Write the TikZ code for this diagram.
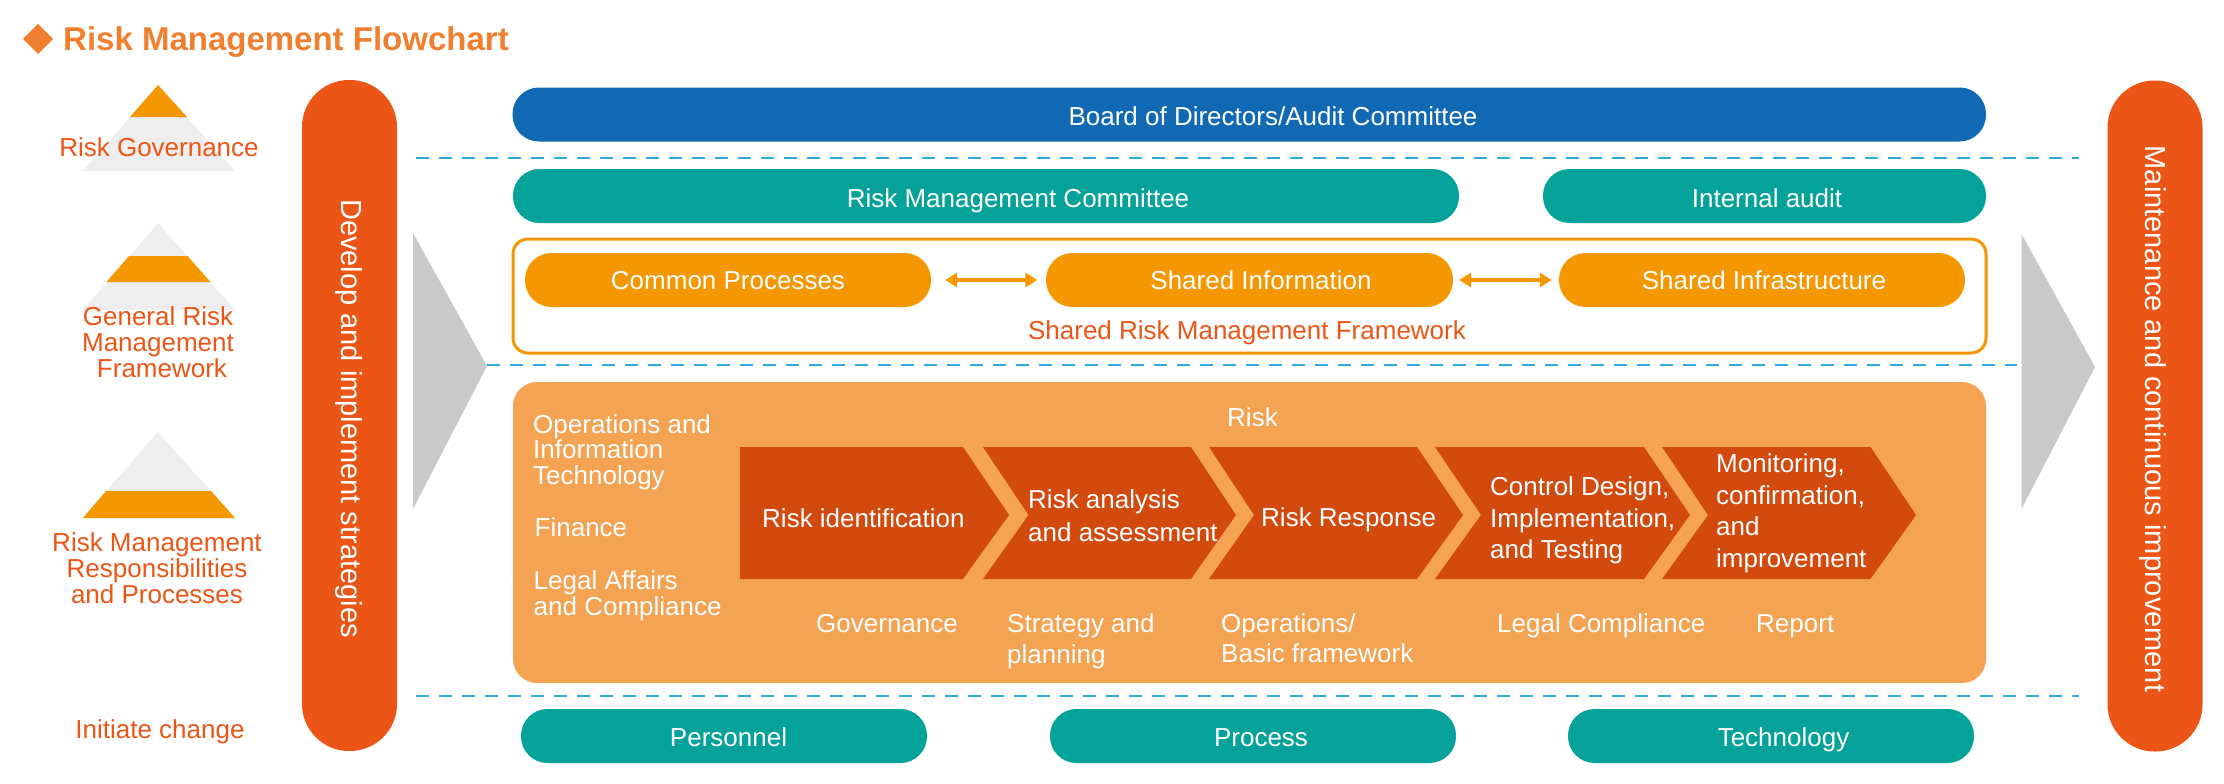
\documentclass[tikz,border=0pt]{standalone}
\usepackage{fontspec}
\setmainfont{Liberation Sans}
\usetikzlibrary{arrows.meta}
\definecolor{cTitle}{HTML}{F0802F}
\definecolor{cRed}{HTML}{EB5516}
\definecolor{cOrange}{HTML}{F59700}
\definecolor{cPale}{HTML}{EEEEEE}
\definecolor{cGray}{HTML}{C8C9C8}
\definecolor{cBlue}{HTML}{1069B2}
\definecolor{cTeal}{HTML}{04A299}
\definecolor{cLight}{HTML}{F4A352}
\definecolor{cChev}{HTML}{D24A0E}
\definecolor{cDash}{HTML}{2FA9E0}
\tikzset{
  x=1pt,y=-1pt,
  pill/.style={rectangle,rounded corners=26.5pt,minimum height=54pt,inner sep=0pt},
  bar/.style={rectangle,rounded corners=47pt,minimum width=95pt,minimum height=671pt,inner sep=0pt,fill=cRed},
  wt/.style={text=white,font=\fontsize{26}{26}\selectfont,inner sep=0pt,anchor=base},
  wl/.style={wt,anchor=base west,align=left},
  rt/.style={text=cRed,font=\fontsize{26}{26}\selectfont,inner sep=0pt,anchor=base,align=center},
  vt/.style={text=white,font=\fontsize{29}{29}\selectfont,inner sep=0pt,rotate=-90,anchor=center},
  divider/.style={cDash,line width=1.4pt,dash pattern=on 13pt off 10pt},
  dbl/.style={{Triangle[length=12pt,width=14pt]}-{Triangle[length=12pt,width=14pt]},cOrange,line width=3.5pt},
  chev/.style={fill=cChev},
}
\begin{document}
\begin{tikzpicture}
\useasboundingbox (0,0) rectangle (2224,784);
% title
\fill[cTitle] (38,24) -- (53,39) -- (38,54) -- (23,39) -- cycle;
\node[text=cTitle,inner sep=0pt,anchor=base west,font=\bfseries\fontsize{33}{33}\selectfont] (title) at (63,51) {Risk Management Flowchart};
% pyramids
\fill[cPale] (158,85) -- (235,171) -- (83,171) -- cycle;
\fill[cOrange] (158,85) -- (187,117) -- (130,117) -- cycle;
\fill[cPale] (158,223) -- (235,310) -- (83,310) -- cycle;
\fill[cOrange] (129,256) -- (187.5,256) -- (210.5,282) -- (106.5,282) -- cycle;
\fill[cPale] (158,432) -- (235,518) -- (83,518) -- cycle;
\fill[cOrange] (106,491) -- (211,491) -- (235,518) -- (83,518) -- cycle;
\node[rt] (lab1) at (159,156) {Risk Governance};
\node[rt] (lab2a) at (158,325) {General Risk};
\node[rt] (lab2b) at (158,351) {Management};
\node[rt] (lab2c) at (162,377) {Framework};
\node[rt] (lab3a) at (157,551) {Risk Management};
\node[rt] (lab3b) at (157,577) {Responsibilities};
\node[rt] (lab3c) at (157,603) {and Processes};
\node[rt] (lab4) at (160,738) {Initiate change};
% bars
\node[bar] (left) at (349.5,415.5) {};
\node[vt] (leftt) at (348.5,418.5) {Develop and implement strategies};
\node[bar] (right) at (2155,416) {};
\node[vt] (rightt) at (2153,419) {Maintenance and continuous improvement};
% gray triangles
\fill[cGray] (413,233) -- (487,366) -- (413,509) -- cycle;
\fill[cGray] (2021.5,234) -- (2095,367) -- (2021.5,509) -- cycle;
% dividers
\coordinate (d1a) at (416,158); \coordinate (d1b) at (2079,158);
\coordinate (d2a) at (487,365); \coordinate (d2b) at (2017,365);
\coordinate (d3a) at (416,696); \coordinate (d3b) at (2079,696);
\draw[divider] (d1a) -- (d1b);
\draw[divider] (d2a) -- (d2b);
\draw[divider] (d3a) -- (d3b);
% top pills
\node[pill,fill=cBlue,minimum width=1473.5pt] (board) at (1249.25,114.5) {};
\node[wt] (boardt) at (1273,125) {Board of Directors/Audit Committee};
\node[pill,fill=cTeal,minimum width=946pt] (rmc) at (986,196) {};
\node[wt] (rmct) at (1018,207) {Risk Management Committee};
\node[pill,fill=cTeal,minimum width=443pt] (audit) at (1764.5,196) {};
\node[wt] (auditt) at (1767,207) {Internal audit};
% framework
\draw[cOrange,line width=3pt,rounded corners=15pt] (513,239) rectangle (1986,353);
\node[pill,fill=cOrange,minimum width=406pt] (cp) at (728,280) {};
\node[wt] (cpt) at (728,289) {Common Processes};
\node[pill,fill=cOrange,minimum width=407pt] (si) at (1249.5,280) {};
\node[wt] (sit) at (1261,289) {Shared Information};
\node[pill,fill=cOrange,minimum width=406pt] (sf) at (1762,280) {};
\node[wt] (sft) at (1764,289) {Shared Infrastructure};
\draw[dbl,shorten <=14pt,shorten >=8.5pt] (cp) -- (si);
\draw[dbl,shorten <=6pt,shorten >=7pt] (si) -- (sf);
\node[rt] (frt) at (1247,339) {Shared Risk Management Framework};
% big panel
\fill[cLight,rounded corners=24pt] (513,382) rectangle (1986,683);
\fill[chev] (740,447) -- (963,447) -- (1009,515) -- (963,579) -- (740,579) -- cycle;
\fill[chev] (983,447) -- (1191,447) -- (1236,515) -- (1191,579) -- (983,579) -- (1028.5,515) -- cycle;
\fill[chev] (1209,447) -- (1417,447) -- (1463,515) -- (1417,579) -- (1209,579) -- (1254,515) -- cycle;
\fill[chev] (1435,447) -- (1644,447) -- (1690,515) -- (1644,579) -- (1435,579) -- (1481,515) -- cycle;
\fill[chev] (1662,447) -- (1870.5,447) -- (1916,515) -- (1870.5,579) -- (1662,579) -- (1708,515) -- cycle;
\node[wl] (r0) at (1227,426) {Risk};
\node[wl] (o1) at (533,433) {Operations and};
\node[wl] (o2) at (533,458) {Information};
\node[wl] (o3) at (533,484) {Technology};
\node[wl] (o4) at (534.5,536) {Finance};
\node[wl] (o5) at (533.5,589) {Legal Affairs};
\node[wl] (o6) at (533.5,615) {and Compliance};
\node[wl] (c1) at (762,527) {Risk identification};
\node[wl] (c2a) at (1028,508) {Risk analysis};
\node[wl] (c2b) at (1028,541) {and assessment};
\node[wl] (c3) at (1261,526) {Risk Response};
\node[wl] (c4a) at (1490,495) {Control Design,};
\node[wl] (c4b) at (1490,527) {Implementation,};
\node[wl] (c4c) at (1490,558) {and Testing};
\node[wl] (c5a) at (1716,472) {Monitoring,};
\node[wl] (c5b) at (1716,504) {confirmation,};
\node[wl] (c5c) at (1716,535) {and};
\node[wl] (c5d) at (1716,567) {improvement};
\node[wl] (b1) at (816,632) {Governance};
\node[wl] (b2a) at (1007,632) {Strategy and};
\node[wl] (b2b) at (1007,663) {planning};
\node[wl] (b3a) at (1221,632) {Operations/};
\node[wl] (b3b) at (1221,662) {Basic framework};
\node[wl] (b4) at (1497,632) {Legal Compliance};
\node[wl] (b5) at (1756,632) {Report};
% bottom pills
\node[pill,fill=cTeal,minimum width=406pt] (pers) at (724,736) {};
\node[wt] (perst) at (728.5,746) {Personnel};
\node[pill,fill=cTeal,minimum width=406pt] (proc) at (1253,736) {};
\node[wt] (proct) at (1261,746) {Process};
\node[pill,fill=cTeal,minimum width=406pt] (tech) at (1771,736) {};
\node[wt] (techt) at (1783.5,746) {Technology};
\end{tikzpicture}
\end{document}
